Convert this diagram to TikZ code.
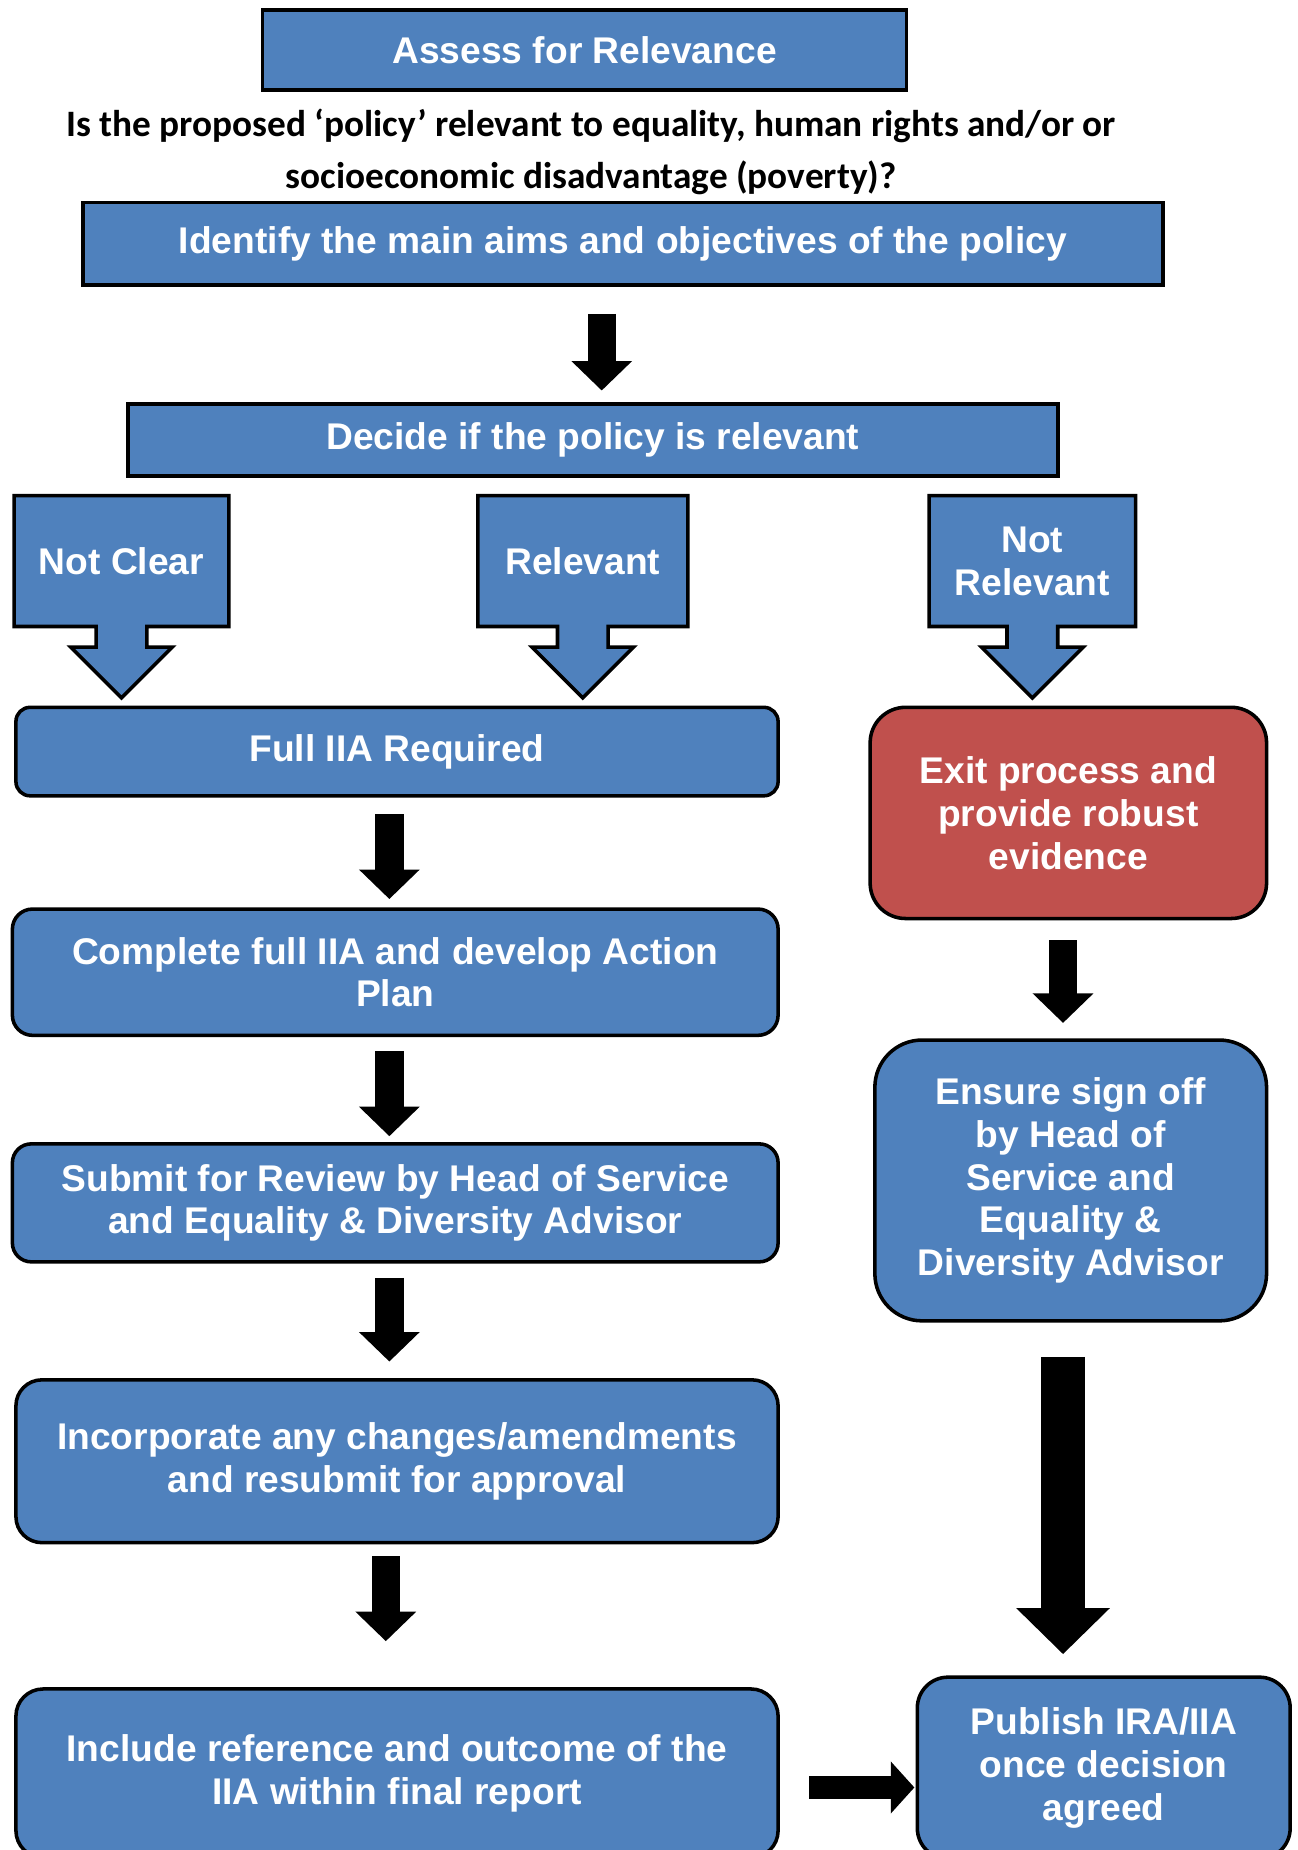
\documentclass[tikz,border=0pt]{standalone}
\usepackage{fontspec}
\setmainfont{Liberation Sans}
\newfontfamily\calibri{Carlito}
\usepackage{tikz}
\usetikzlibrary{arrows.meta, positioning, shapes.arrows}
\definecolor{boxblue}{HTML}{4F81BD}
\definecolor{boxred}{HTML}{C0504D}

\begin{document}
\begin{tikzpicture}[x=1pt, y=1pt,
  every node/.style={font=\fontsize{31.5}{36.3}\selectfont\bfseries, text=white,
                     align=center, inner sep=0pt},
  flat/.style={draw=black, line width=3pt, fill=boxblue},
  stage/.style={flat, rounded corners=#1},
  choice/.style={flat, arrow box, arrow box arrows={south:59pt from border},
                 arrow box shaft width=43pt, arrow box head extend=21.5pt,
                 arrow box tip angle=90, minimum height=111pt},
  blockarrow/.style={line width=24pt, -{Triangle[length=25pt, width=50pt]}},
  bigarrow/.style={line width=37pt, -{Triangle[length=39pt, width=77pt]}},
  sidearrow/.style={line width=20pt, -{Triangle[length=20pt, width=43pt]}}]
\useasboundingbox (0,0) rectangle (1100,-1568);
\clip (0,0) rectangle (1100,-1568);
%
\node[flat, anchor=north west, minimum width=546pt, minimum height=68pt] (assess) at (221,-7) {Assess for Relevance};
\node[text=black, font=\calibri\fontsize{31.6}{44}\selectfont\bfseries] (question) at (501,-129)
  {Is the proposed ‘policy’ relevant to equality, human rights and/or or\\ socioeconomic disadvantage (poverty)?};
\node[flat, anchor=north west, minimum width=915pt, minimum height=70pt] (ident) at (69,-170) {Identify the main aims and objectives of the policy};
\node[flat, anchor=north west, minimum width=788pt, minimum height=61pt] (decide) at (107,-341) {Decide if the policy is relevant};
%
\node[choice, minimum width=182pt] (notclear) at (103,-475.5) {Not Clear};
\node[choice, minimum width=178pt] (relevant) at (494,-475.5) {Relevant};
\node[choice, minimum width=175pt] (notrelevant) at (875,-475.5) {Not\\ Relevant};
%
\node[stage=12pt, anchor=north west, minimum width=646pt, minimum height=75pt] (full) at (12,-598) {Full IIA Required};
\node[stage=17pt, anchor=north west, minimum width=649pt, minimum height=107pt] (complete) at (9,-769) {Complete full IIA and develop Action\\ Plan};
\node[stage=16pt, anchor=north west, minimum width=649pt, minimum height=100pt] (submit) at (9,-968) {Submit for Review by Head of Service\\ and Equality \& Diversity Advisor};
\node[stage=22pt, anchor=north west, minimum width=646pt, minimum height=138pt] (incorp) at (12,-1168) {Incorporate any changes/amendments\\ and resubmit for approval};
\node[stage=23pt, anchor=north west, minimum width=646pt, minimum height=143pt] (include) at (12,-1430) {Include reference and outcome of the\\ IIA within final report};
%
\node[stage=30pt, fill=boxred, anchor=north west, minimum width=336pt, minimum height=179pt] (exit) at (736,-598) {Exit process and\\ provide robust\\ evidence};
\node[stage=40pt, anchor=north west, minimum width=332pt, minimum height=238pt] (ensure) at (740,-880) {Ensure sign off\\ by Head of\\ Service and\\ Equality \&\\ Diversity Advisor};
\node[stage=26pt, anchor=north west, minimum width=316pt, minimum height=154pt] (publish) at (776,-1420) {Publish IRA/IIA\\ once decision\\ agreed};
%
\draw[blockarrow, shorten <=23pt, shorten >=10pt] (ident.south -| 510,0) -- (decide.north -| 510,0);
\draw[blockarrow, shorten <=14pt, shorten >=7pt] (full.south -| 330,0) -- (complete.north -| 330,0);
\draw[blockarrow, shorten <=12pt, shorten >=5pt] (complete.south -| 330,0) -- (submit.north -| 330,0);
\draw[blockarrow, shorten <=12pt, shorten >=14pt] (submit.south -| 330,0) -- (incorp.north -| 330,0);
\draw[blockarrow, shorten <=10pt, shorten >=39pt] (incorp.south -| 327,0) -- (include.north -| 327,0);
\draw[blockarrow, shorten <=17pt, shorten >=13pt] (exit.south -| 901,0) -- (ensure.north -| 901,0);
\draw[bigarrow, shorten <=29pt, shorten >=18pt] (ensure.south -| 901,0) -- (publish.north -| 901,0);
\draw[sidearrow, shorten <=25pt, shorten >=1pt] (include.east |- 0,-1515) -- (publish.west |- 0,-1515);
\end{tikzpicture}
\end{document}
